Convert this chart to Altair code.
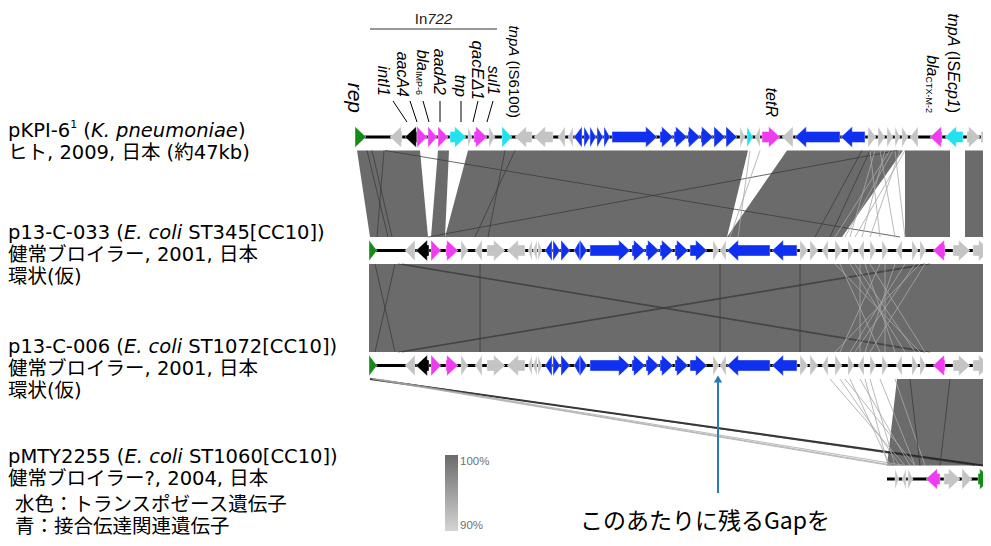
import altair as alt
import pandas as pd

# ------------------------------------------------------------------ data
# genome positions in kb along the comparison axis
TRACK_SPAN = [(0.00, 52.0), (1.12, 52.0), (1.12, 52.0), (42.56, 52.0)]

# (start_kb, end_kb, strand, kind)
GENES_PKPI6 = [
    (0.00, 0.88, 1, "rep"), (2.80, 3.76, -1, "other"), (4.00, 4.96, -1, "int"),
    (4.96, 5.76, 1, "res"), (5.84, 6.56, 1, "res"), (6.64, 7.44, 1, "res"),
    (7.60, 8.88, 1, "tnp"), (9.04, 9.36, 1, "other"), (9.52, 10.56, 1, "res"),
    (10.72, 11.20, 1, "other"), (11.76, 12.56, 1, "tnp"), (12.80, 14.16, -1, "other"),
    (14.32, 15.84, -1, "other"), (16.24, 16.80, -1, "other"), (17.04, 17.44, -1, "other"),
    (17.52, 18.16, -1, "conj"), (18.32, 18.80, 1, "conj"), (18.80, 19.28, 1, "conj"),
    (19.36, 19.84, 1, "conj"), (19.92, 20.40, 1, "conj"), (20.56, 24.16, 1, "conj"),
    (24.40, 25.44, 1, "conj"), (25.52, 26.56, 1, "conj"), (26.64, 27.60, 1, "conj"),
    (27.68, 28.64, 1, "conj"), (28.72, 29.60, 1, "conj"), (29.68, 30.56, 1, "conj"),
    (30.80, 31.20, 1, "other"), (31.36, 31.84, 1, "tnp"), (32.00, 32.40, -1, "other"),
    (32.56, 34.00, 1, "res"), (34.16, 35.04, -1, "other"), (35.20, 38.80, -1, "conj"),
    (38.88, 40.80, -1, "conj"), (41.04, 41.68, 1, "other"), (41.84, 42.40, 1, "other"),
    (42.56, 43.04, 1, "other"), (43.20, 43.60, 1, "other"), (43.76, 44.24, 1, "other"),
    (44.40, 45.04, -1, "other"), (46.00, 46.96, -1, "res"), (47.20, 48.64, -1, "tnp"),
    (48.96, 50.00, 1, "other"), (50.08, 51.20, 1, "other"),
]
# p13-C-033 and p13-C-006 share the same layout
GENES_P13 = [
    (1.12, 1.76, 1, "rep"), (4.00, 4.80, -1, "other"), (4.88, 5.92, -1, "int"),
    (6.08, 6.88, 1, "res"), (7.28, 8.24, 1, "res"), (8.48, 9.04, 1, "other"),
    (9.60, 10.16, -1, "other"), (10.56, 12.00, 1, "other"), (12.16, 13.60, -1, "other"),
    (13.84, 14.16, -1, "other"), (14.24, 14.56, -1, "other"), (14.64, 14.96, 1, "other"),
    (15.20, 15.76, -1, "conj"), (15.84, 16.40, 1, "conj"), (16.48, 17.20, 1, "conj"),
    (17.52, 18.00, -1, "conj"), (18.00, 18.56, 1, "conj"), (18.80, 22.00, 1, "conj"),
    (22.16, 23.20, 1, "conj"), (23.28, 24.32, 1, "conj"), (24.40, 25.44, 1, "conj"),
    (25.60, 26.64, 1, "conj"), (26.80, 28.16, 1, "conj"), (28.64, 29.12, 1, "other"),
    (29.20, 29.68, -1, "other"), (29.76, 33.20, -1, "conj"), (33.36, 35.36, -1, "conj"),
    (35.60, 36.24, 1, "other"), (36.40, 37.04, 1, "other"), (37.36, 37.84, -1, "other"),
    (38.40, 38.96, 1, "other"), (39.44, 39.92, 1, "other"), (40.24, 40.72, -1, "other"),
    (41.20, 41.68, 1, "other"), (42.16, 42.64, 1, "other"), (43.28, 43.76, -1, "other"),
    (44.56, 45.04, 1, "other"), (45.20, 45.68, 1, "other"), (46.24, 47.20, -1, "res"),
    (47.84, 49.20, 1, "other"), (49.44, 50.80, 1, "other"),
]
GENES_PMTY = [
    (43.20, 43.52, 1, "other"), (43.76, 44.08, -1, "other"), (44.24, 44.64, 1, "other"),
    (45.68, 46.80, -1, "res"), (47.12, 48.40, 1, "other"), (48.56, 49.36, 1, "other"),
    (49.84, 50.88, 1, "rep"),
]
TRACK_GENES = [GENES_PKPI6, GENES_P13, GENES_P13, GENES_PMTY]

# homology blocks: (upper track, upper start, upper end, lower start, lower end)
BLOCKS = [
    (0, 0.16, 5.20, 1.20, 5.84), (0, 6.64, 7.52, 6.08, 7.20),
    (0, 9.04, 31.44, 7.20, 29.76), (0, 34.56, 43.84, 29.76, 38.96),
    (0, 44.00, 47.60, 44.00, 47.60), (0, 48.80, 52.00, 48.80, 52.00),
    (1, 1.12, 52.00, 1.12, 52.00),
    (2, 43.36, 50.88, 42.56, 50.24),
]
# short / low identity matches: (upper track, upper x, lower x, tone)
MATCH_LINES = [
    (0, 2.40, 43.60, "d"), (0, 43.36, 5.84, "d"), (0, 0.96, 2.64, "d"), (0, 2.32, 1.76, "d"),
    (0, 1.36, 2.96, "d"), (0, 12.80, 9.60, "d"), (0, 12.00, 10.64, "d"), (0, 41.20, 38.00, "d"),
    (0, 40.56, 36.80, "d"),
    (0, 41.60, 39.60, "l"), (0, 42.80, 38.40, "l"), (0, 43.60, 41.20, "l"), (0, 42.00, 43.20, "l"),
    (0, 41.20, 42.00, "l"), (0, 44.00, 40.00, "l"), (0, 43.20, 44.00, "l"), (0, 42.40, 40.56, "l"),
    (0, 43.04, 39.20, "l"), (0, 32.40, 30.00, "l"), (0, 31.60, 30.64, "l"),
    (1, 3.44, 45.60, "d"), (1, 3.76, 46.00, "d"), (1, 45.60, 3.44, "d"), (1, 46.00, 3.76, "d"),
    (1, 1.60, 3.20, "d"), (1, 3.20, 1.60, "d"), (1, 10.00, 10.00, "d"), (1, 29.20, 29.20, "d"),
    (1, 35.60, 35.60, "d"),
    (1, 38.40, 45.20, "l"), (1, 45.20, 38.40, "l"), (1, 39.60, 44.00, "l"), (1, 44.00, 39.60, "l"),
    (1, 40.80, 43.20, "l"), (1, 43.20, 40.80, "l"), (1, 38.80, 42.00, "l"), (1, 42.00, 38.80, "l"),
    (1, 41.20, 45.60, "l"), (1, 45.60, 41.20, "l"), (1, 40.00, 44.80, "l"), (1, 44.80, 40.00, "l"),
    (1, 42.40, 42.40, "l"), (1, 40.40, 40.40, "l"),
    (2, 1.20, 50.24, "D"), (2, 1.44, 49.60, "d"),
    (2, 1.36, 42.80, "l"), (2, 1.60, 43.20, "l"), (2, 1.84, 44.00, "l"),
    (2, 38.80, 43.60, "l"), (2, 39.60, 42.80, "l"), (2, 40.40, 44.40, "l"), (2, 41.20, 43.20, "l"),
    (2, 42.00, 44.80, "l"), (2, 43.20, 45.60, "l"), (2, 38.00, 44.00, "l"), (2, 39.20, 44.80, "l"),
    (2, 40.80, 42.64, "l"), (2, 44.40, 45.20, "d"), (2, 47.60, 46.80, "d"),
]

# gene labels: (x_kb, bottom, [(text, style, size)])
GENE_LABELS = [
    (-0.08, 113, [("rep", "i", 21)]),
    (2.24, 96, [("intI1", "i", 16)]),
    (3.76, 97, [("aacA4", "i", 16)]),
    (5.36, 95, [("bla", "i", 16), ("IMP-6", "s", 9)]),
    (6.72, 95, [("aadA2", "i", 16)]),
    (8.40, 97, [("tnp", "i", 16)]),
    (9.76, 100, [("qacEΔ1", "i", 17)]),
    (11.04, 95, [("sul1", "i", 16)]),
    (12.72, 118, [("tnpA", "i", 15), (" (IS6100)", "n", 15)]),
    (33.28, 117, [("tetR", "i", 16)]),
    (46.16, 113, [("bla", "i", 16), ("CTX-M-2", "s", 9)]),
    (47.84, 113, [("tnpA", "i", 16), (" (IS", "n", 16), ("Ecp1", "i", 16), (")", "n", 16)]),
]
# leader lines (label x, gene x)
LEADERS = [(3.04, 4.16), (4.40, 4.96), (5.44, 5.92), (6.80, 6.80), (8.48, 8.48),
           (9.84, 9.44), (11.04, 10.56)]
IN722_SPAN = (1.20, 11.36)

# left hand descriptions: rows of segments (text, style)
LEFT_ROWS = [
    [("pKPI-6", "n"), ("1", "sup"), (" (", "n"), ("K. pneumoniae", "i"), (")", "n")],
    [("ヒト, 2009, 日本 (約47kb)", "n")],
    [("p13-C-033 (", "n"), ("E. coli", "i"), (" ST345[CC10])", "n")],
    [("健常ブロイラー, 2001, 日本", "n")],
    [("環状(仮)", "n")],
    [("p13-C-006 (", "n"), ("E. coli", "i"), (" ST1072[CC10])", "n")],
    [("健常ブロイラー, 2001, 日本", "n")],
    [("環状(仮)", "n")],
    [("pMTY2255 (", "n"), ("E. coli", "i"), (" ST1060[CC10])", "n")],
    [("健常ブロイラー?, 2004, 日本", "n")],
    [("水色：トランスポゼース遺伝子", "n")],
    [("青：接合伝達関連遺伝子", "n")],
]
LEGEND_TEXT = ["100%", "90%"]
NOTE = "このあたりに残るGapを"
GAP_POS_KB = 29.04

# ------------------------------------------------------------------ style / layout
W, H = 975, 530
PX_PER_KB = 12.5
X_DOMAIN = [-27.76, 50.24]
Y_DOMAIN = [8, 538]
TRACK_Y = [137, 250.5, 365.5, 479]
BAND = 13.5
BODY_H, HEAD_H, HEAD_KB = 5.5, 10.5, 0.9
EPS = 1e-4
LEFT_FS = 19.5
LEFT_Y = [131, 153, 233, 255, 277, 347, 369, 391, 457, 479, 505, 527]
LEFT_X = [-27.76] * 10 + [-27.2, -27.2]
KIND_COLOR = {"rep": "#168a16", "other": "#c4c4c4", "int": "#000000",
              "res": "#f03cf0", "tnp": "#22e2f0", "conj": "#1030f0"}
TONE = {"d": ("#3a3a3a", 1.0, 0.75), "D": ("#202020", 2.0, 0.9), "l": ("#a8a8a8", 1.0, 0.8)}
BLOCK_COLOR = "#6b6b6b"
ARROW_COLOR = "#2b7ab5"
LEFT_FONT = "DejaVu Sans, Noto Sans CJK JP"
GENE_FONT = "Liberation Sans, Arial"

DJV = {' ': .318, '(': .390, ')': .390, ',': .318, '-': .361, '.': .318,
       '?': .531, '[': .390, ']': .390, 'C': .698, 'E': .632, 'I': .295, 'K': .656,
       'M': .863, 'P': .603, 'S': .635, 'T': .611, 'Y': .611, 'a': .613, 'b': .635,
       'c': .550, 'e': .615, 'i': .278, 'k': .579, 'l': .278, 'm': .974, 'n': .634,
       'o': .612, 'p': .635, 'u': .634}
LIB = {'a': .556, 'b': .556, 'c': .5, 'd': .556, 'e': .556, 'i': .222, 'l': .222,
       'n': .556, 'p': .556, 'q': .556, 'r': .333, 's': .5, 't': .278, 'u': .556,
       'A': .667, 'C': .722, 'E': .667, 'I': .278, 'M': .833, 'P': .667, 'R': .722,
       'S': .667, 'T': .611, 'X': .667, 'Δ': .668, '(': .333, ')': .333, ' ': .278,
       '-': .333}


def width(txt, size, table):
    w = 0.0
    for ch in txt:
        if ord(ch) > 0x2E80:
            w += 1.0
        elif ch.isdigit():
            w += .636 if table is DJV else .556
        else:
            w += table.get(ch, 0.6)
    return w * size


xs = alt.Scale(domain=X_DOMAIN, nice=False, zero=False)
ys = alt.Scale(domain=Y_DOMAIN, nice=False, zero=False, reverse=True)


def X(f):
    return alt.X(f"{f}:Q", scale=xs, axis=None)


def Y(f):
    return alt.Y(f"{f}:Q", scale=ys, axis=None)


# ---- homology blocks
brows = []
for bi, (t, a0, a1, b0, b1) in enumerate(BLOCKS):
    brows.append(dict(id=bi, y=TRACK_Y[t] + BAND, xl=a0, xr=a1))
    brows.append(dict(id=bi, y=TRACK_Y[t + 1] - BAND, xl=b0, xr=b1))
blocks = alt.Chart(pd.DataFrame(brows)).mark_area(
    orient="horizontal", color=BLOCK_COLOR, opacity=1
).encode(y=Y("y"), x=X("xl"), x2=alt.X2("xr"), detail="id:N")

# ---- match lines
lrows = []
for t, xa, xb, tone in MATCH_LINES:
    c, w, o = TONE[tone]
    lrows.append(dict(x=xa, y=TRACK_Y[t] + BAND, x2=xb, y2=TRACK_Y[t + 1] - BAND,
                      c=c, w=w, o=o))
matches = alt.Chart(pd.DataFrame(lrows)).mark_rule().encode(
    x=X("x"), x2=alt.X2("x2"), y=Y("y"), y2=alt.Y2("y2"),
    color=alt.Color("c:N", scale=None), strokeWidth=alt.StrokeWidth("w:Q", scale=None),
    opacity=alt.Opacity("o:Q", scale=None))

# ---- backbones
bb = pd.DataFrame([dict(x=s, x2=e, y=TRACK_Y[i]) for i, (s, e) in enumerate(TRACK_SPAN)])
backbone = alt.Chart(bb).mark_rule(color="black", strokeWidth=3).encode(
    x=X("x"), x2=alt.X2("x2"), y=Y("y"))

# ---- genes as arrow polygons (vertical areas, one per gene)
gene_layers = []
for kind, col in KIND_COLOR.items():
    grows = []
    gid = 0
    for ti, genes in enumerate(TRACK_GENES):
        c = TRACK_Y[ti]
        for (s, e, strand, k) in genes:
            gid += 1
            if k != kind:
                continue
            L = e - s
            hl = min(HEAD_KB, L)
            if strand > 0:
                pts = []
                if L > hl:
                    pts += [(s, c - BODY_H, c + BODY_H), (e - hl - EPS, c - BODY_H, c + BODY_H)]
                pts += [(e - hl, c - HEAD_H, c + HEAD_H), (e, c, c)]
            else:
                pts = [(s, c, c), (s + hl, c - HEAD_H, c + HEAD_H)]
                if L > hl:
                    pts += [(s + hl + EPS, c - BODY_H, c + BODY_H), (e, c - BODY_H, c + BODY_H)]
            for (px, a, b) in pts:
                grows.append(dict(g=gid, x=px, y=a, y2=b))
    gene_layers.append(alt.Chart(pd.DataFrame(grows)).mark_area(
        color=col, stroke="white", strokeWidth=0.4, opacity=1
    ).encode(x=X("x"), y=Y("y"), y2=alt.Y2("y2"), detail="g:N"))

# ---- gene labels (rotated)
rot = {"i": [], "n": [], "s": []}
for xk, bottom, segs in GENE_LABELS:
    end = bottom
    for txt, st, sz in reversed(segs):
        dx = -3.0 / PX_PER_KB if st == "s" else 0.0
        rot[st].append(dict(x=xk + dx, y=end, t=txt.strip(), fs=sz))
        end -= width(txt, sz, LIB)
rot_layers = []
for st, rows in rot.items():
    if not rows:
        continue
    rot_layers.append(alt.Chart(pd.DataFrame(rows)).mark_text(
        angle=90, align="right", baseline="middle", font=GENE_FONT,
        fontStyle="italic" if st == "i" else "normal", color="black"
    ).encode(x=X("x"), y=Y("y"), text="t:N", size=alt.Size("fs:Q", scale=None)))

lead = pd.DataFrame([dict(x=a, y=101, x2=b, y2=122) for a, b in LEADERS])
leaders = alt.Chart(lead).mark_rule(color="black", strokeWidth=1).encode(
    x=X("x"), x2=alt.X2("x2"), y=Y("y"), y2=alt.Y2("y2"))

in_line = alt.Chart(pd.DataFrame([dict(x=IN722_SPAN[0], x2=IN722_SPAN[1], y=29)])).mark_rule(
    color="#333333", strokeWidth=1).encode(x=X("x"), x2=alt.X2("x2"), y=Y("y"))
mid = (IN722_SPAN[0] + IN722_SPAN[1]) / 2
w_in = width("In", 15, LIB) / PX_PER_KB
w_722 = width("722", 15, LIB) / PX_PER_KB
x0 = mid - (w_in + w_722) / 2
in_n = alt.Chart(pd.DataFrame([dict(x=x0, y=19, t="In")])).mark_text(
    align="left", baseline="middle", font=GENE_FONT, fontSize=15, color="#222222"
).encode(x=X("x"), y=Y("y"), text="t:N")
in_i = alt.Chart(pd.DataFrame([dict(x=x0 + w_in, y=19, t="722")])).mark_text(
    align="left", baseline="middle", font=GENE_FONT, fontSize=15, fontStyle="italic",
    color="#222222").encode(x=X("x"), y=Y("y"), text="t:N")

# ---- left descriptions
left = {"n": [], "i": [], "sup": []}
for row, y, xk in zip(LEFT_ROWS, LEFT_Y, LEFT_X):
    cur = xk
    for txt, st in row:
        sz = 11 if st == "sup" else LEFT_FS
        lead_sp = txt[:len(txt) - len(txt.lstrip(" "))]
        left[st].append(dict(x=cur + width(lead_sp, sz, DJV) / PX_PER_KB,
                             y=y - 6 if st == "sup" else y, t=txt.strip(), fs=sz))
        cur += width(txt, sz, DJV) / PX_PER_KB
left_layers = []
for st, rows in left.items():
    left_layers.append(alt.Chart(pd.DataFrame(rows)).mark_text(
        align="left", baseline="middle", font=LEFT_FONT,
        fontStyle="italic" if st == "i" else "normal", color="black"
    ).encode(x=X("x"), y=Y("y"), text="t:N", size=alt.Size("fs:Q", scale=None)))

# ---- identity gradient legend
grad = alt.Chart(pd.DataFrame([dict(x=7.20, x2=8.24, y=455, y2=531)])).mark_rect(
    fill={"gradient": "linear", "x1": 0, "x2": 0, "y1": 0, "y2": 1,
          "stops": [{"offset": 0, "color": "#6b6b6b"}, {"offset": 1, "color": "#d4d4d4"}]}
).encode(x=X("x"), x2=alt.X2("x2"), y=Y("y"), y2=alt.Y2("y2"))
grad_txt = alt.Chart(pd.DataFrame([dict(x=8.40, y=462, t=LEGEND_TEXT[0]),
                                   dict(x=8.40, y=526, t=LEGEND_TEXT[1])])).mark_text(
    align="left", baseline="middle", font=GENE_FONT, fontSize=11.5, color="#707070"
).encode(x=X("x"), y=Y("y"), text="t:N")

# ---- gap annotation
gap_line = alt.Chart(pd.DataFrame([dict(x=GAP_POS_KB, y=493, y2=382)])).mark_rule(
    color=ARROW_COLOR, strokeWidth=2).encode(x=X("x"), y=Y("y"), y2=alt.Y2("y2"))
gap_head = alt.Chart(pd.DataFrame([dict(x=GAP_POS_KB, y=379)])).mark_point(
    shape="triangle-up", filled=True, size=70, color=ARROW_COLOR, opacity=1
).encode(x=X("x"), y=Y("y"))
note = alt.Chart(pd.DataFrame([dict(x=28.0, y=522, t=NOTE)])).mark_text(
    align="center", baseline="middle", font="Noto Sans CJK JP", fontSize=23, color="black"
).encode(x=X("x"), y=Y("y"), text="t:N")

chart = alt.layer(
    blocks, matches, backbone, *gene_layers, leaders, in_line, in_n, in_i,
    *rot_layers, *left_layers, grad, grad_txt, gap_line, gap_head, note
).properties(
    width=W, height=H, padding=0, autosize=alt.AutoSizeParams(type="none")
).configure_view(stroke=None)

chart.save("out.html", embed_options={"renderer": "svg", "actions": False})
